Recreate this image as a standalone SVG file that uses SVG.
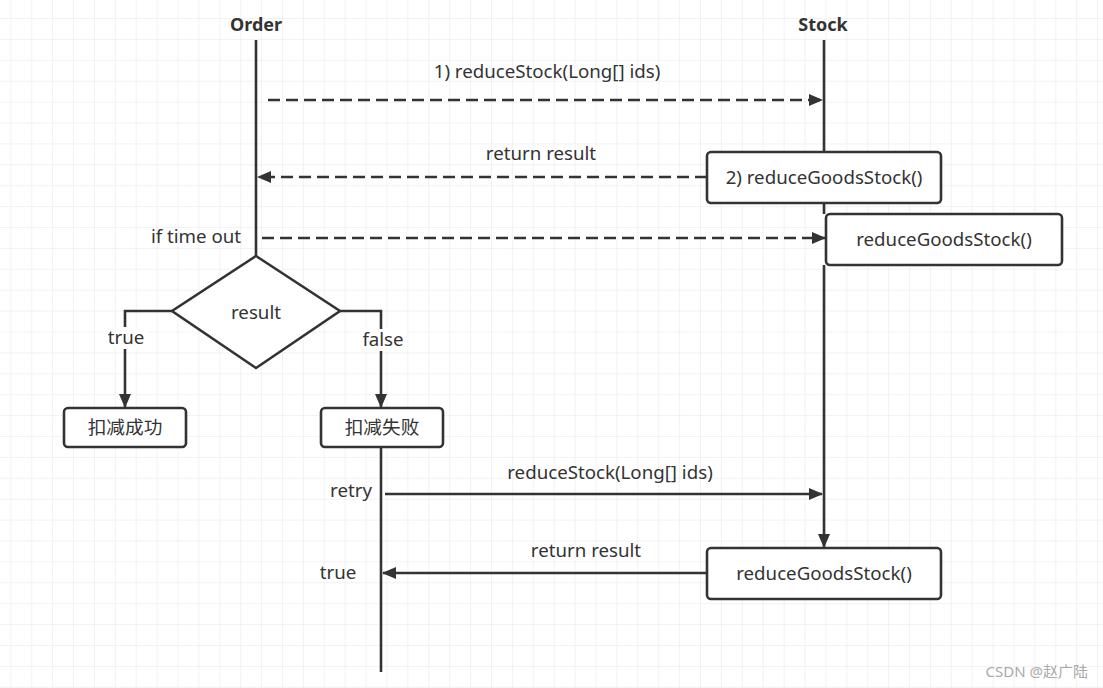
<svg xmlns="http://www.w3.org/2000/svg" width="1103" height="688" viewBox="0 0 1103 688">
<defs>
<pattern id="grid" x="10.3" y="18" width="20.9" height="20.9" patternUnits="userSpaceOnUse">
<path d="M0 0H20.9M0 0V20.9" fill="none" stroke="#e6e6e6" stroke-width="1"/>
</pattern>
<marker id="ah" viewBox="0 0 14 12" refX="13" refY="6" markerWidth="14" markerHeight="12" markerUnits="userSpaceOnUse" orient="auto">
<path d="M0 0L14 6L0 12Z" fill="#333"/>
</marker>
<style>
.ln{fill:none;stroke:#333;stroke-width:2.6}
.ds{stroke-dasharray:12 6}
.bx{fill:#fff;stroke:#333;stroke-width:2.6}
.t{font-family:"Noto Sans","Noto Sans CJK SC",sans-serif;font-size:18.7px;fill:#333;text-anchor:middle}
.b{font-weight:bold;font-size:18px}
.lb{fill:#fff}
</style>
</defs>
<rect width="1103" height="688" fill="#fff"/>
<rect width="1103" height="688" fill="url(#grid)"/>

<g id="connectors">
<path class="ln" d="M256 40V256"/>
<path class="ln" d="M824 40V152"/>
<path class="ln" d="M824 203V214"/>
<path class="ln" d="M824 265V547" marker-end="url(#ah)"/>
<path class="ln ds" d="M268 100H822" marker-end="url(#ah)"/>
<path class="ln ds" d="M707 177H258" marker-end="url(#ah)"/>
<path class="ln ds" d="M262 238H825" marker-end="url(#ah)"/>
<path class="ln" d="M172 311H125V407" marker-end="url(#ah)"/>
<path class="ln" d="M340 311H381V407" marker-end="url(#ah)"/>
<path class="ln" d="M381 447V672"/>
<path class="ln" d="M385 494H822" marker-end="url(#ah)"/>
<path class="ln" d="M707 573H383" marker-end="url(#ah)"/>
<rect class="lb" x="104" y="327" width="44" height="22"/>
<rect class="lb" x="359" y="329" width="48" height="22"/>
</g>

<g id="order"><text class="t b" x="256" y="31">Order</text></g>
<g id="stock"><text class="t b" x="823" y="31">Stock</text></g>

<g id="lbl1"><text class="t" x="547" y="78">1) reduceStock(Long[] ids)</text></g>
<g id="lbl2"><text class="t" x="541" y="160">return result</text></g>
<g id="lbl3"><text class="t" x="196" y="243">if time out</text></g>
<g id="lbl4"><text class="t" x="126" y="344">true</text></g>
<g id="lbl5"><text class="t" x="383" y="346">false</text></g>
<g id="lbl6"><text class="t" x="351" y="497">retry</text></g>
<g id="lbl7"><text class="t" x="610" y="479">reduceStock(Long[] ids)</text></g>
<g id="lbl8"><text class="t" x="586" y="557">return result</text></g>
<g id="lbl9"><text class="t" x="338" y="579">true</text></g>

<g id="box1">
<rect class="bx" x="707" y="152" width="234" height="51" rx="4"/>
<text class="t" x="824" y="184">2) reduceGoodsStock()</text>
</g>
<g id="box2">
<rect class="bx" x="826" y="214" width="236" height="51" rx="4"/>
<text class="t" x="944" y="246">reduceGoodsStock()</text>
</g>
<g id="decision">
<path class="bx" d="M256 256L340 311L256 368L172 311Z"/>
<text class="t" x="256" y="319">result</text>
</g>
<g id="ok">
<rect class="bx" x="64" y="408" width="122" height="39" rx="4"/>
<text class="t" x="125" y="434">扣减成功</text>
</g>
<g id="fail">
<rect class="bx" x="321" y="408" width="122" height="39" rx="4"/>
<text class="t" x="382" y="434">扣减失败</text>
</g>
<g id="box3">
<rect class="bx" x="707" y="548" width="234" height="51" rx="4"/>
<text class="t" x="824" y="580">reduceGoodsStock()</text>
</g>
<g id="watermark">
<text x="1088" y="677" style="font-family:'Noto Sans','Noto Sans CJK SC',sans-serif;font-size:15px;fill:#aaa;text-anchor:end">CSDN @赵广陆</text>
</g>
</svg>
